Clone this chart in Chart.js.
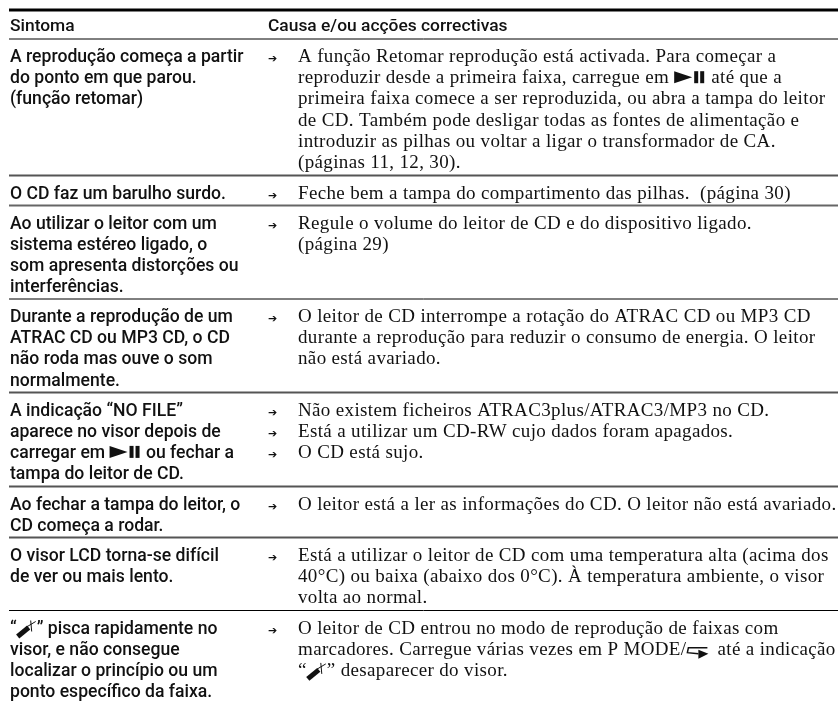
<!DOCTYPE html>
<html>
<head>
<meta charset="utf-8">
<script src="https://cdn.jsdelivr.net/npm/chart.js@4"></script>
<style>
  html, body { margin: 0; padding: 0; background: #fff; }
  canvas { display: block; }
</style>
</head>
<body>
<canvas id="myChart" width="838" height="701"></canvas>
<script>
// @p = play/pause icon, @m = marker icon, @r = repeat icon
const headers = ["Sintoma", "Causa e/ou acções correctivas"];
const symptoms = [
  ["A reprodução começa a partir", "do ponto em que parou.", "(função retomar)"],
  ["O CD faz um barulho surdo."],
  ["Ao utilizar o leitor com um", "sistema estéreo ligado, o", "som apresenta distorções ou", "interferências."],
  ["Durante a reprodução de um", "ATRAC CD ou MP3 CD, o CD", "não roda mas ouve o som", "normalmente."],
  ["A indicação “NO FILE”", "aparece no visor depois de", "carregar em @p ou fechar a", "tampa do leitor de CD."],
  ["Ao fechar a tampa do leitor, o", "CD começa a rodar."],
  ["O visor LCD torna-se difícil", "de ver ou mais lento."],
  ["“@m” pisca rapidamente no", "visor, e não consegue", "localizar o princípio ou um", "ponto específico da faixa."]
];
const actions = [
  ["A função Retomar reprodução está activada. Para começar a", "reproduzir desde a primeira faixa, carregue em @p até que a", "primeira faixa comece a ser reproduzida, ou abra a tampa do leitor", "de CD. Também pode desligar todas as fontes de alimentação e", "introduzir as pilhas ou voltar a ligar o transformador de CA.", "(páginas 11, 12, 30)."],
  ["Feche bem a tampa do compartimento das pilhas.  (página 30)"],
  ["Regule o volume do leitor de CD e do dispositivo ligado.", "(página 29)"],
  ["O leitor de CD interrompe a rotação do ATRAC CD ou MP3 CD", "durante a reprodução para reduzir o consumo de energia. O leitor", "não está avariado."],
  ["Não existem ficheiros ATRAC3plus/ATRAC3/MP3 no CD.", "Está a utilizar um CD-RW cujo dados foram apagados.", "O CD está sujo."],
  ["O leitor está a ler as informações do CD. O leitor não está avariado."],
  ["Está a utilizar o leitor de CD com uma temperatura alta (acima dos", "40°C) ou baixa (abaixo dos 0°C). À temperatura ambiente, o visor", "volta ao normal."],
  ["O leitor de CD entrou no modo de reprodução de faixas com", "marcadores. Carregue várias vezes em P MODE/@r até a indicação", "“@m” desaparecer do visor."]
];
const arrowCounts = [1, 1, 1, 1, 3, 1, 1, 1];
const ruleRows = [10, 39, 175.5, 205.5, 299, 392.5, 486.5, 537.5, 610.5];
const ruleWeights = [3, 1, 2, 2, 1, 2, 2, 2, 1];
const ruleColors = ["#000", "#000", "#555", "#666", "#000", "#555", "#555", "#555", "#000"];

const leftX = 10, arrowX = 268, rightX = 298, lineStep = 21.2, firstLine = 23;
const boldFont = "500 17.6px Roboto";
const headFont = "500 17.4px Roboto";
const serifFont = "19px 'Liberation Serif'";
const serifSpacing = "0.35px";
const ink = "#111";

function playPause(ctx, x, y) {
  ctx.beginPath();
  ctx.moveTo(x, y - 12); ctx.lineTo(x + 18, y - 6); ctx.lineTo(x, y);
  ctx.closePath(); ctx.fill();
  ctx.fillRect(x + 20, y - 12, 4, 12);
  ctx.fillRect(x + 26, y - 12, 4, 12);
  return 32;
}
function marker(ctx, x, y) {
  ctx.save();
  ctx.lineWidth = 5;
  ctx.beginPath(); ctx.moveTo(x + 1, y + 3); ctx.lineTo(x + 12, y - 6); ctx.stroke();
  ctx.lineWidth = 1;
  ctx.beginPath(); ctx.moveTo(x + 9, y - 6); ctx.lineTo(x + 19, y - 12); ctx.moveTo(x + 14, y - 13); ctx.lineTo(x + 15, y - 2); ctx.stroke();
  ctx.restore();
  return 20;
}
function repeat(ctx, x, y) {
  ctx.save();
  ctx.lineWidth = 1.5;
  ctx.beginPath(); ctx.moveTo(x + 21, y - 7); ctx.lineTo(x + 2, y - 7); ctx.lineTo(x + 1, y - 2); ctx.lineTo(x + 12, y - 1); ctx.stroke();
  ctx.beginPath(); ctx.moveTo(x + 12, y - 5); ctx.lineTo(x + 22, y - 1); ctx.lineTo(x + 12, y + 4); ctx.closePath(); ctx.fill();
  ctx.restore();
  return 26;
}
const icons = { p: playPause, m: marker, r: repeat };

function drawLine(ctx, text, x, y) {
  text.split(/(@[pmr])/).forEach(part => {
    if (part[0] === "@") {
      x += icons[part[1]](ctx, x, y);
    } else if (part) {
      ctx.fillText(part, x, y);
      x += ctx.measureText(part).width;
    }
  });
}

const tableText = {
  id: "tableText",
  afterDraw(chart) {
    const ctx = chart.ctx, px = chart.scales.x, py = chart.scales.y;
    ctx.save();
    ctx.fillStyle = ink;
    ctx.strokeStyle = ink;
    ctx.textBaseline = "alphabetic";
    ctx.font = headFont;
    ctx.fillText(headers[0], px.getPixelForValue(leftX), py.getPixelForValue(31));
    ctx.fillText(headers[1], px.getPixelForValue(arrowX), py.getPixelForValue(31));
    symptoms.forEach((lines, r) => {
      const top = ruleRows[r + 1] + firstLine;
      ctx.letterSpacing = "0px";
      ctx.font = boldFont;
      lines.forEach((t, i) => drawLine(ctx, t, px.getPixelForValue(leftX), py.getPixelForValue(top + i * lineStep)));
      ctx.font = "11px 'DejaVu Sans'";
      for (let i = 0; i < arrowCounts[r]; i++) ctx.fillText("➔", px.getPixelForValue(arrowX), py.getPixelForValue(top + i * lineStep));
      ctx.font = serifFont;
      ctx.letterSpacing = serifSpacing;
      actions[r].forEach((t, i) => drawLine(ctx, t, px.getPixelForValue(rightX), py.getPixelForValue(top + i * lineStep)));
    });
    ctx.restore();
  }
};

new Chart(document.getElementById("myChart"), {
  type: "line",
  data: {
    datasets: ruleRows.map((row, i) => ({
      data: [{ x: 9, y: row }, { x: 838, y: row }],
      borderColor: ruleColors[i],
      borderWidth: ruleWeights[i],
      pointRadius: 0
    }))
  },
  options: {
    responsive: false,
    animation: false,
    devicePixelRatio: 1,
    layout: { padding: 0 },
    plugins: { legend: { display: false }, tooltip: { enabled: false } },
    scales: {
      x: { type: "linear", display: false, min: 0, max: 838 },
      y: { type: "linear", display: false, min: 0, max: 701, reverse: true }
    }
  },
  plugins: [tableText]
});
</script>
</body>
</html>
